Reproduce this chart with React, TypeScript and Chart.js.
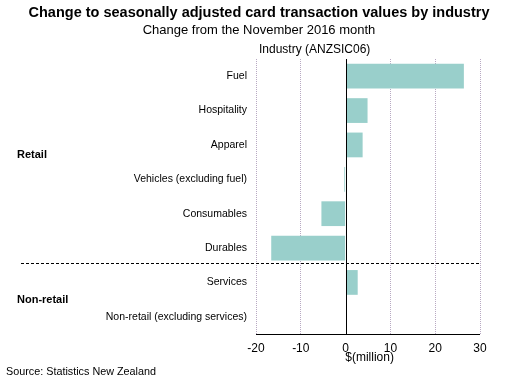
import React, { useEffect, useRef } from "react";
import { Chart, registerables } from "chart.js";

Chart.register(...registerables);

const categories = [
  "Fuel",
  "Hospitality",
  "Apparel",
  "Vehicles (excluding fuel)",
  "Consumables",
  "Durables",
  "Services",
  "Non-retail (excluding services)",
];
const values = [26.4, 4.9, 3.8, -0.3, -5.4, -16.6, 2.7, 0.0];
const xTicks = [-20, -10, 0, 10, 20, 30];
const groups = ["Retail", "Non-retail"];
const titleText = "Change to seasonally adjusted card transaction values by industry";
const subtitleText = "Change from the November 2016 month";
const axisHeader = "Industry (ANZSIC06)";
const xTitle = "$(million)";
const sourceText = "Source: Statistics New Zealand";

const FONT = "'Liberation Sans', Arial, sans-serif";

const overlay = {
  id: "overlay",
  afterDraw(chart: any) {
    const ctx = chart.ctx;
    const { left, right, top, bottom } = chart.chartArea;
    const x = chart.scales.x;
    const y = chart.scales.y;
    ctx.save();
    // zero line
    const x0 = Math.round(x.getPixelForValue(0)) + 0.5;
    ctx.strokeStyle = "#000";
    ctx.lineWidth = 1;
    ctx.setLineDash([]);
    ctx.beginPath();
    ctx.moveTo(x0, top);
    ctx.lineTo(x0, bottom);
    ctx.stroke();
    // bottom axis
    ctx.beginPath();
    ctx.moveTo(left, Math.round(bottom) + 0.5);
    ctx.lineTo(right, Math.round(bottom) + 0.5);
    ctx.stroke();
    // dashed separator
    const sepY = Math.round((y.getPixelForValue(5) + y.getPixelForValue(6)) / 2) - 1.5;
    ctx.setLineDash([3, 2]);
    ctx.beginPath();
    ctx.moveTo(21, sepY);
    ctx.lineTo(right, sepY);
    ctx.stroke();
    ctx.setLineDash([]);

    ctx.fillStyle = "#000";
    ctx.textBaseline = "middle";
    // title
    ctx.textAlign = "center";
    ctx.font = `bold 14.5px ${FONT}`;
    ctx.fillText(titleText, 259, 13);
    ctx.font = `13px ${FONT}`;
    ctx.fillText(subtitleText, 259, 30);
    // header
    ctx.textAlign = "left";
    ctx.font = `12px ${FONT}`;
    ctx.fillText(axisHeader, 259, 50);
    // group labels
    ctx.font = `bold 11px ${FONT}`;
    const p2 = y.getPixelForValue(2);
    const p3 = y.getPixelForValue(3);
    ctx.fillText(groups[0], 17, p2 + (p3 - p2) * 0.28);
    const p6 = y.getPixelForValue(6);
    const p7 = y.getPixelForValue(7);
    ctx.fillText(groups[1], 17, (p6 + p7) / 2);
    // x title
    ctx.textAlign = "center";
    ctx.font = `12px ${FONT}`;
    ctx.fillText(xTitle, x.getPixelForValue(0) + 24, 358);
    // source
    ctx.textAlign = "left";
    ctx.font = `10.8px ${FONT}`;
    ctx.fillText(sourceText, 6, 372);
    ctx.restore();
  },
};

export default function App() {
  const ref = useRef<HTMLCanvasElement | null>(null);
  useEffect(() => {
    if (!ref.current) return;
    const chart = new Chart(ref.current, {
      type: "bar",
      data: {
        labels: categories,
        datasets: [
          {
            data: values,
            backgroundColor: "#99cfcb",
            borderWidth: 0,
            barPercentage: 0.72,
            categoryPercentage: 1,
          },
        ],
      },
      options: {
        indexAxis: "y",
        animation: false,
        responsive: false,
        maintainAspectRatio: false,
        layout: { padding: { top: 59, right: 50, left: 0, bottom: 0 } },
        plugins: {
          legend: { display: false },
          tooltip: { enabled: false },
          title: { display: false },
        },
        scales: {
          x: {
            type: "linear",
            min: -20,
            max: 30,
            afterBuildTicks: (s: any) => {
              s.ticks = xTicks.map((v) => ({ value: v }));
            },
            afterFit: (s: any) => {
              s.height = 48;
            },
            grid: {
              display: true,
              drawTicks: false,
              color: (c: any) => (c.tick && c.tick.value === 0 ? "rgba(0,0,0,0)" : "#b8a9c2"),
              lineWidth: 1,
            },
            border: { display: false, dash: [1, 1] },
            ticks: {
              padding: 7,
              color: "#000",
              font: { family: FONT, size: 12 },
            },
          },
          y: {
            type: "category",
            afterFit: (s: any) => {
              s.width = 256;
            },
            grid: { display: false, drawTicks: false },
            border: { display: false },
            ticks: {
              padding: 9,
              color: "#000",
              font: { family: FONT, size: 10.5 },
              autoSkip: false,
            },
          },
        },
      } as any,
      plugins: [overlay],
    });
    return () => chart.destroy();
  }, []);
  return (
    <div style={{ position: "absolute", left: 0, top: 0, width: 530, height: 382, background: "#fff" }}>
      <canvas ref={ref} width={530} height={382} style={{ width: 530, height: 382 }} />
    </div>
  );
}
